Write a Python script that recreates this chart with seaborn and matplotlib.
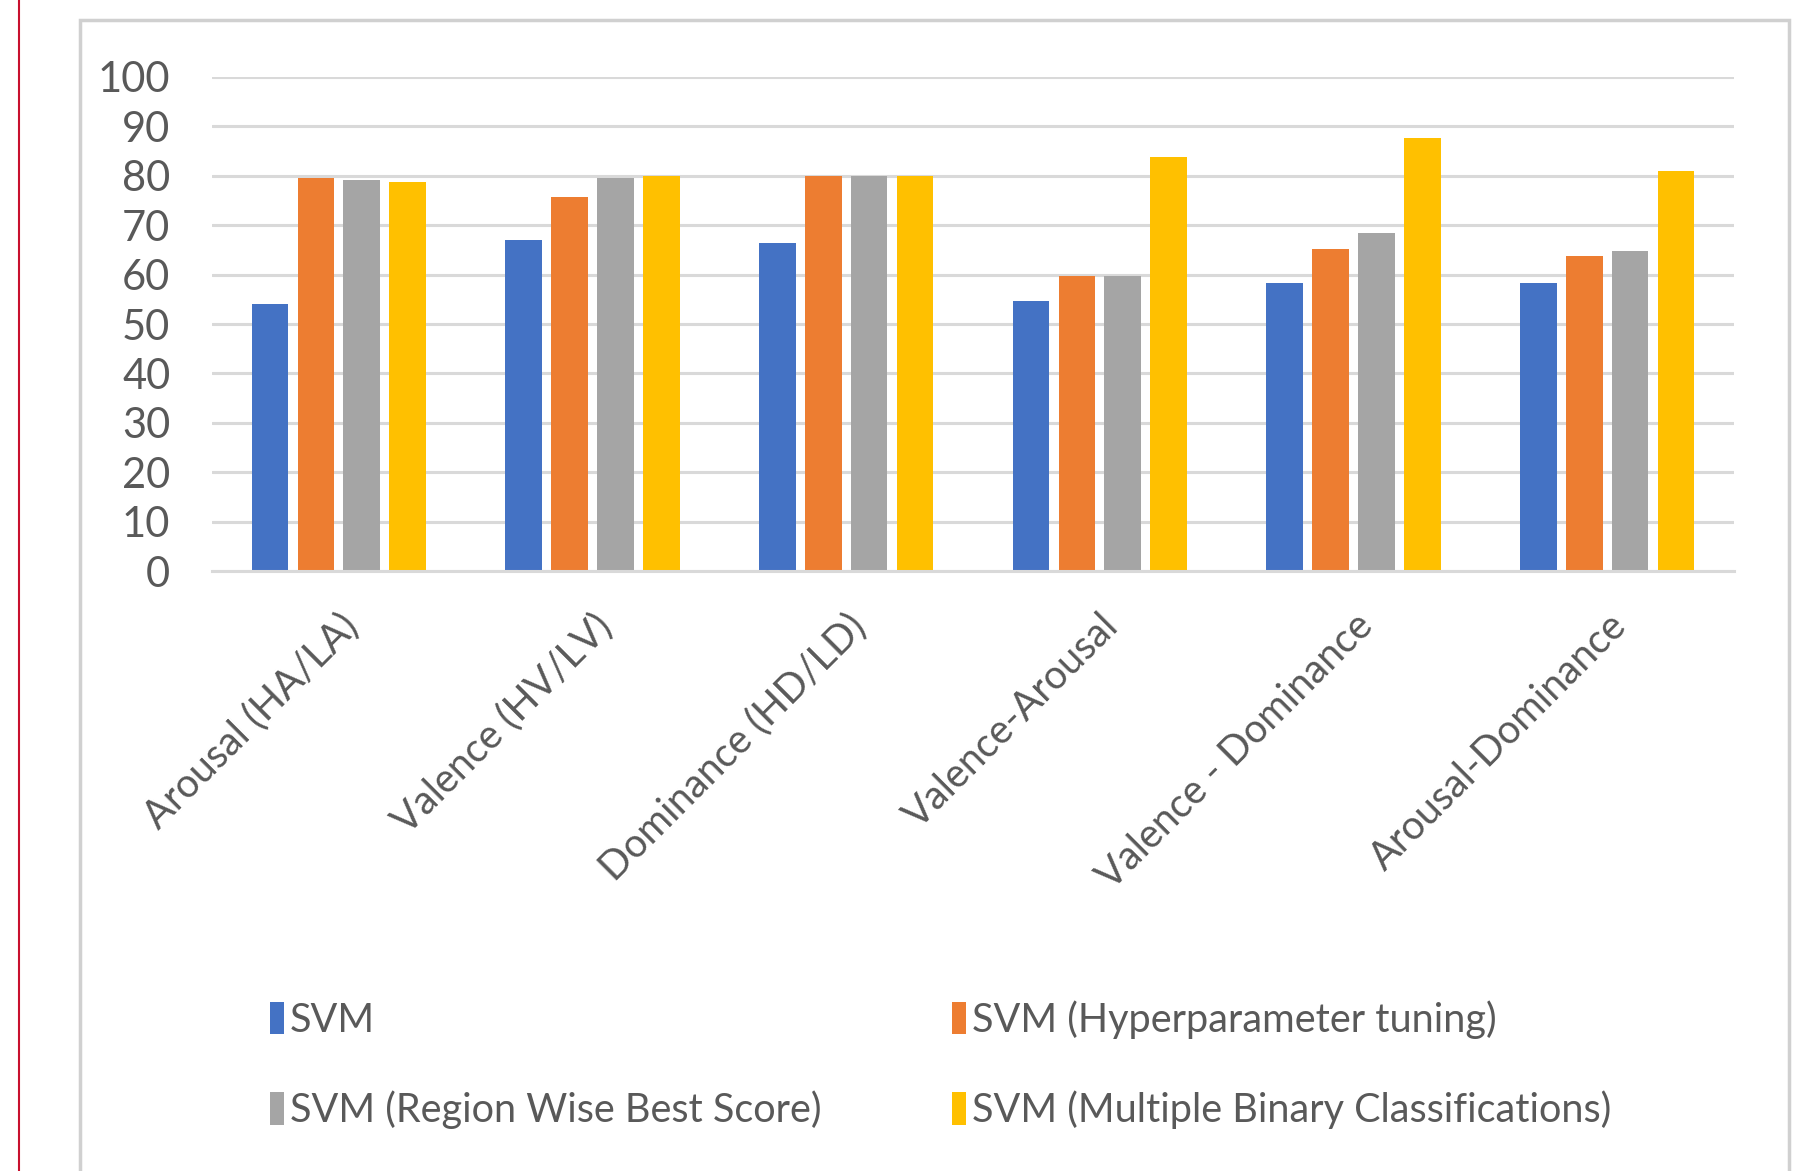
import numpy as np
import pandas as pd
import matplotlib
matplotlib.use("Agg")
import matplotlib.pyplot as plt
import seaborn as sns
from matplotlib.patches import Rectangle, Patch
from matplotlib.lines import Line2D

categories = ["Arousal (HA/LA)", "Valence (HV/LV)", "Dominance (HD/LD)",
              "Valence-Arousal", "Valence - Dominance", "Arousal-Dominance"]
series_names = ["SVM", "SVM (Hyperparameter tuning)",
                "SVM (Region Wise Best Score)", "SVM (Multiple Binary Classifications)"]
svm = [54, 67, 66.3, 54.7, 58.4, 58.4]
svm_hyper = [79.5, 75.8, 80, 59.7, 65.2, 63.7]
svm_region = [79.1, 79.6, 80, 59.7, 68.4, 64.8]
svm_multi = [78.8, 80, 80, 83.9, 87.7, 80.9]
yticks = [0, 10, 20, 30, 40, 50, 60, 70, 80, 90, 100]
colors = ["#4472C4", "#ED7D31", "#A5A5A5", "#FFC000"]

rows = []
for name, vals in zip(series_names, [svm, svm_hyper, svm_region, svm_multi]):
    for c, v in zip(categories, vals):
        rows.append({"category": c, "series": name, "value": v})
df = pd.DataFrame(rows)

sns.set_theme(style="white")
plt.rcParams['font.family'] = ['Lato', 'DejaVu Sans']
text_color = "#595959"

W, H = 1798, 1171
fig = plt.figure(figsize=(W / 100, H / 100), dpi=100)
fig.patch.set_facecolor("white")

# page decorations: red margin line and chart frame
fig.add_artist(Line2D([19 / W, 19 / W], [0, 1], color="#C8102E", lw=1.5, transform=fig.transFigure))
fig.add_artist(Rectangle((80 / W, -0.05), (1789 - 80) / W, 1.05 - 20 / H,
                         transform=fig.transFigure, fill=False, edgecolor="#D0D0D0", lw=2.5))

ax = fig.add_axes([212 / W, 1 - 571 / H, (1734 - 212) / W, (571 - 77) / H])
sns.barplot(data=df, x="category", y="value", hue="series", hue_order=series_names,
            order=categories, palette=colors, width=0.724, gap=0.2, ax=ax,
            saturation=1, legend=False, edgecolor="none")

ax.set_ylim(0, 100)
ax.set_xlim(-0.5, len(categories) - 0.5)
ax.set_yticks(yticks)
ax.set_yticklabels([str(t) for t in yticks])
ax.yaxis.grid(True, color="#D9D9D9", lw=2.2)
ax.set_axisbelow(True)
for s in ["top", "right", "left"]:
    ax.spines[s].set_visible(False)
ax.spines["bottom"].set_color("#D9D9D9")
ax.spines["bottom"].set_linewidth(2.2)
ax.set_xlabel("")
ax.set_ylabel("")
ax.tick_params(axis="y", length=0, pad=30, labelsize=30, labelcolor=text_color)
ax.tick_params(axis="x", length=0, pad=26, labelsize=28.5, labelcolor=text_color)
for lbl in ax.get_xticklabels():
    lbl.set_rotation(45)
    lbl.set_ha("right")
    lbl.set_rotation_mode("anchor")

handles = [Patch(facecolor=c, edgecolor="none") for c in colors]
order = [0, 2, 1, 3]
fig.legend([handles[i] for i in order], [series_names[i] for i in order],
           ncol=2, loc="upper left", bbox_to_anchor=(270 / W, 1 - 1000 / H),
           frameon=False, fontsize=28.5, labelcolor=text_color,
           handlelength=0.35, handleheight=0.9, handletextpad=0.15,
           columnspacing=3.3, labelspacing=1.3, borderaxespad=0, borderpad=0)

fig.savefig("out.png", dpi=100, facecolor="white")
